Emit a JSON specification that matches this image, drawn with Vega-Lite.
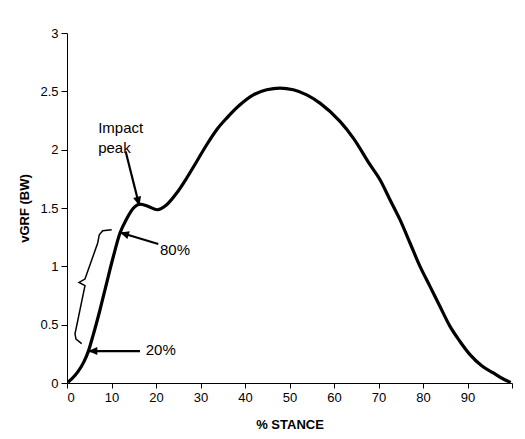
{
  "$schema": "https://vega.github.io/schema/vega-lite/v6.json",
  "width": 445,
  "height": 350,
  "autosize": "none",
  "padding": {"left": 67, "top": 33, "right": 13, "bottom": 56},
  "background": "white",
  "datasets": {
    "curve": [
      {"stance": 0.22, "vgrf": 0.007},
      {"stance": 1.12, "vgrf": 0.037},
      {"stance": 2.47, "vgrf": 0.097},
      {"stance": 3.82, "vgrf": 0.183},
      {"stance": 4.79, "vgrf": 0.271},
      {"stance": 5.84, "vgrf": 0.405},
      {"stance": 7.42, "vgrf": 0.628},
      {"stance": 8.92, "vgrf": 0.859},
      {"stance": 10.4, "vgrf": 1.082},
      {"stance": 11.91, "vgrf": 1.285},
      {"stance": 13.42, "vgrf": 1.408},
      {"stance": 14.9, "vgrf": 1.498},
      {"stance": 16.4, "vgrf": 1.534},
      {"stance": 18.27, "vgrf": 1.513},
      {"stance": 20.29, "vgrf": 1.485},
      {"stance": 22.4, "vgrf": 1.528},
      {"stance": 24.65, "vgrf": 1.628},
      {"stance": 26.9, "vgrf": 1.757},
      {"stance": 29.15, "vgrf": 1.899},
      {"stance": 31.39, "vgrf": 2.042},
      {"stance": 33.64, "vgrf": 2.171},
      {"stance": 35.89, "vgrf": 2.271},
      {"stance": 38.88, "vgrf": 2.385},
      {"stance": 41.87, "vgrf": 2.47},
      {"stance": 44.88, "vgrf": 2.513},
      {"stance": 47.87, "vgrf": 2.528},
      {"stance": 50.85, "vgrf": 2.513},
      {"stance": 53.87, "vgrf": 2.47},
      {"stance": 56.85, "vgrf": 2.399},
      {"stance": 61.35, "vgrf": 2.242},
      {"stance": 64.34, "vgrf": 2.099},
      {"stance": 68.09, "vgrf": 1.871},
      {"stance": 70.34, "vgrf": 1.742},
      {"stance": 72.58, "vgrf": 1.571},
      {"stance": 74.83, "vgrf": 1.4},
      {"stance": 77.08, "vgrf": 1.2},
      {"stance": 79.33, "vgrf": 0.999},
      {"stance": 81.57, "vgrf": 0.828},
      {"stance": 83.82, "vgrf": 0.656},
      {"stance": 86.07, "vgrf": 0.485},
      {"stance": 88.31, "vgrf": 0.356},
      {"stance": 90.56, "vgrf": 0.243},
      {"stance": 93.19, "vgrf": 0.148},
      {"stance": 95.8, "vgrf": 0.086},
      {"stance": 98.04, "vgrf": 0.034},
      {"stance": 99.71, "vgrf": 0.005}
    ],
    "brace": [
      {"i": 1, "stance": 10.04, "vgrf": 1.314},
      {"i": 2, "stance": 8.02, "vgrf": 1.305},
      {"i": 3, "stance": 7.26, "vgrf": 1.271},
      {"i": 4, "stance": 6.9, "vgrf": 1.2},
      {"i": 5, "stance": 4.04, "vgrf": 0.891},
      {"i": 6, "stance": 2.7, "vgrf": 0.862},
      {"i": 7, "stance": 4.04, "vgrf": 0.834},
      {"i": 8, "stance": 1.8, "vgrf": 0.422},
      {"i": 9, "stance": 2.02, "vgrf": 0.377},
      {"i": 10, "stance": 3.3, "vgrf": 0.337}
    ],
    "arrows": [
      {"arrow": "impact", "tail_x": 13.19, "tail_y": 1.985, "tip_x": 16.25, "tip_y": 1.519},
      {"arrow": "80", "tail_x": 20.52, "tail_y": 1.191, "tip_x": 11.91, "tip_y": 1.29},
      {"arrow": "20", "tail_x": 16.4, "tail_y": 0.274, "tip_x": 4.79, "tip_y": 0.274}
    ],
    "notes": [
      {"stance": 7.0, "vgrf": 2.142, "label": "Impact\npeak"},
      {"stance": 20.9, "vgrf": 1.097, "label": "80%"},
      {"stance": 17.7, "vgrf": 0.243, "label": "20%"}
    ]
  },
  "layer": [
    {
      "data": {"name": "curve"},
      "mark": {"type": "line", "color": "black", "strokeWidth": 3.2, "interpolate": "monotone"},
      "encoding": {
        "x": {
          "field": "stance",
          "type": "quantitative",
          "scale": {"domain": [0, 100], "nice": false, "zero": false},
          "axis": {
            "title": "% STANCE",
            "values": [0, 10, 20, 30, 40, 50, 60, 70, 80, 90, 100],
            "labelExpr": "datum.value == 100 ? '' : '' + datum.value",
            "grid": false,
            "domainColor": "black",
            "tickColor": "black",
            "tickSize": 5,
            "labelPadding": 3,
            "labelFont": "Liberation Sans",
            "labelFontSize": 13,
            "labelColor": "black",
            "titleFont": "Liberation Sans",
            "titleFontSize": 13,
            "titleFontWeight": "bold",
            "titleColor": "black",
            "titlePadding": 14
          }
        },
        "y": {
          "field": "vgrf",
          "type": "quantitative",
          "scale": {"domain": [0, 3], "nice": false},
          "axis": {
            "title": "vGRF (BW)",
            "values": [0, 0.5, 1, 1.5, 2, 2.5, 3],
            "labelExpr": "'' + datum.value",
            "grid": false,
            "domainColor": "black",
            "tickColor": "black",
            "tickSize": 6,
            "labelPadding": 3,
            "labelFont": "Liberation Sans",
            "labelFontSize": 13,
            "labelColor": "black",
            "titleFont": "Liberation Sans",
            "titleFontSize": 13,
            "titleFontWeight": "bold",
            "titleColor": "black",
            "titlePadding": 8
          }
        }
      }
    },
    {
      "data": {"name": "brace"},
      "mark": {"type": "line", "color": "black", "strokeWidth": 1.5},
      "encoding": {
        "x": {"field": "stance", "type": "quantitative"},
        "y": {"field": "vgrf", "type": "quantitative"},
        "order": {"field": "i"}
      }
    },
    {
      "data": {"name": "arrows"},
      "mark": {"type": "rule", "color": "black", "strokeWidth": 2.2},
      "encoding": {
        "x": {"field": "tail_x", "type": "quantitative"},
        "y": {"field": "tail_y", "type": "quantitative"},
        "x2": {"field": "tip_x"},
        "y2": {"field": "tip_y"}
      }
    },
    {
      "data": {"name": "arrows"},
      "transform": [{"filter": "datum.arrow == 'impact'"}],
      "mark": {"type": "point", "shape": "M0,0L0.9,2L-0.9,2Z", "filled": true, "color": "black", "opacity": 1, "size": 81, "angle": 166},
      "encoding": {
        "x": {"field": "tip_x", "type": "quantitative"},
        "y": {"field": "tip_y", "type": "quantitative"}
      }
    },
    {
      "data": {"name": "arrows"},
      "transform": [{"filter": "datum.arrow == '80'"}],
      "mark": {"type": "point", "shape": "M0,0L0.9,2L-0.9,2Z", "filled": true, "color": "black", "opacity": 1, "size": 81, "angle": 287},
      "encoding": {
        "x": {"field": "tip_x", "type": "quantitative"},
        "y": {"field": "tip_y", "type": "quantitative"}
      }
    },
    {
      "data": {"name": "arrows"},
      "transform": [{"filter": "datum.arrow == '20'"}],
      "mark": {"type": "point", "shape": "M0,0L0.9,2L-0.9,2Z", "filled": true, "color": "black", "opacity": 1, "size": 81, "angle": 270},
      "encoding": {
        "x": {"field": "tip_x", "type": "quantitative"},
        "y": {"field": "tip_y", "type": "quantitative"}
      }
    },
    {
      "data": {"name": "notes"},
      "mark": {"type": "text", "align": "left", "baseline": "alphabetic", "font": "Liberation Sans", "fontSize": 15, "color": "black", "lineBreak": "\n", "lineHeight": 20},
      "encoding": {
        "x": {"field": "stance", "type": "quantitative"},
        "y": {"field": "vgrf", "type": "quantitative"},
        "text": {"field": "label"}
      }
    }
  ],
  "config": {"view": {"stroke": null}}
}
